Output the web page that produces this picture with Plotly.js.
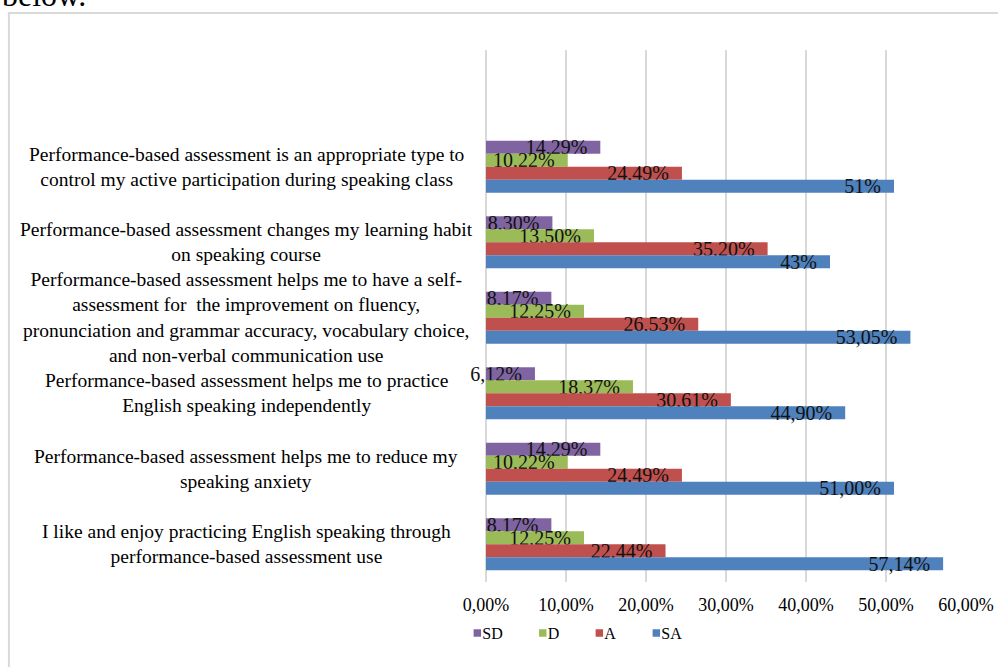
<!DOCTYPE html>
<html>
<head>
<meta charset="utf-8">
<script src="https://cdn.plot.ly/plotly-3.0.1.min.js"></script>
<style>
  html, body { margin: 0; padding: 0; background: #fff; }
  #chart { width: 998px; height: 667px; }
  #chart .legendpoints path { transform: translate(35px, 0px) scale(0.62); }
</style>
</head>
<body>
<div id="chart"></div>
<script>
// Categories, listed top to bottom as in the chart
var categories = [
  "Performance-based assessment is an appropriate type to<br>control my active participation during speaking class",
  "Performance-based assessment changes my learning habit<br>on speaking course",
  "Performance-based assessment helps me to have a self-<br>assessment for  the improvement on fluency,<br>pronunciation and grammar accuracy, vocabulary choice,<br>and non-verbal communication use",
  "Performance-based assessment helps me to practice<br>English speaking independently",
  "Performance-based assessment helps me to reduce my<br>speaking anxiety",
  "I like and enjoy practicing English speaking through<br>performance-based assessment use"
];

var seriesNames = ["SD", "D", "A", "SA"];

var sdValues = [14.29, 8.30, 8.17, 6.12, 14.29, 8.17];
var dValues  = [10.22, 13.50, 12.25, 18.37, 10.22, 12.25];
var aValues  = [24.49, 35.20, 26.53, 30.61, 24.49, 22.44];
var saValues = [51, 43, 53.05, 44.90, 51.00, 57.14];

var sdLabels = ["14,29%", "8,30%", "8,17%", "6,12%", "14,29%", "8,17%"];
var dLabels  = ["10,22%", "13,50%", "12,25%", "18,37%", "10,22%", "12,25%"];
var aLabels  = ["24,49%", "35,20%", "26,53%", "30,61%", "24,49%", "22,44%"];
var saLabels = ["51%", "43%", "53,05%", "44,90%", "51,00%", "57,14%"];

var xTickValues = [0, 10, 20, 30, 40, 50, 60];
var xTickLabels = ["0,00%", "10,00%", "20,00%", "30,00%", "40,00%", "50,00%", "60,00%"];

var seriesColors = ["#8064A2", "#9BBB59", "#C0504D", "#4F81BD"];

var serif = "'Liberation Serif', 'Times New Roman', serif";

var allValues = [sdValues, dValues, aValues, saValues];
var allLabels = [sdLabels, dLabels, aLabels, saLabels];

var traces = seriesNames.map(function (name, i) {
  return {
    type: "bar",
    orientation: "h",
    name: name,
    y: categories,
    x: allValues[i],
    text: allLabels[i],
    texttemplate: "%{text}\u00a0\u00a0",
    textposition: "inside",
    insidetextanchor: "end",
    textangle: 0,
    constraintext: "none",
    cliponaxis: false,
    textfont: { family: serif, size: 20, color: "#111111" },
    marker: { color: seriesColors[i], line: { width: 0 } },
    hoverinfo: "skip"
  };
});

var annotations = categories.map(function (c) {
  return {
    xref: "paper", yref: "y",
    x: -0.5, y: c,
    xanchor: "center", yanchor: "middle",
    align: "center",
    text: c,
    showarrow: false,
    font: { family: serif, size: 19.5, color: "#000000" }
  };
});

annotations.push({
  xref: "paper", yref: "paper",
  x: -1.012, y: 1.103,
  xanchor: "left", yanchor: "middle",
  text: "below.",
  showarrow: false,
  font: { family: serif, size: 32, color: "#000000" }
});

var layout = {
  width: 998,
  height: 667,
  margin: { l: 486, r: 32, t: 50, b: 85 },
  paper_bgcolor: "#ffffff",
  plot_bgcolor: "#ffffff",
  barmode: "group",
  bargap: 0.313,
  bargroupgap: 0,
  separators: ", ",
  showlegend: true,
  legend: {
    orientation: "h",
    x: -0.091, xanchor: "left",
    y: -0.096, yanchor: "middle",
    font: { family: serif, size: 16, color: "#000000" },
    itemwidth: 30,
    bgcolor: "rgba(0,0,0,0)"
  },
  xaxis: {
    range: [0, 60],
    tickmode: "array",
    tickvals: xTickValues,
    ticktext: xTickLabels,
    showgrid: true,
    gridcolor: "#d9d9d9",
    gridwidth: 1.5,
    zeroline: true,
    zerolinecolor: "#d9d9d9",
    zerolinewidth: 1.5,
    showline: false,
    ticks: "",
    ticklabelstandoff: 10,
    tickfont: { family: serif, size: 18, color: "#000000" },
    fixedrange: true
  },
  yaxis: {
    type: "category",
    categoryorder: "array",
    categoryarray: categories,
    range: [5.5, -1.546],
    showticklabels: false,
    showgrid: false,
    zeroline: false,
    showline: false,
    ticks: "",
    fixedrange: true
  },
  annotations: annotations,
  shapes: [{
    type: "rect",
    xref: "paper", yref: "paper",
    x0: -0.994, x1: 1.2,
    y0: -0.3, y1: 1.0695,
    line: { color: "#d9d9d9", width: 2 },
    fillcolor: "rgba(0,0,0,0)",
    layer: "below"
  }]
};

Plotly.newPlot("chart", traces, layout, { displayModeBar: false, staticPlot: true });
</script>
</body>
</html>
